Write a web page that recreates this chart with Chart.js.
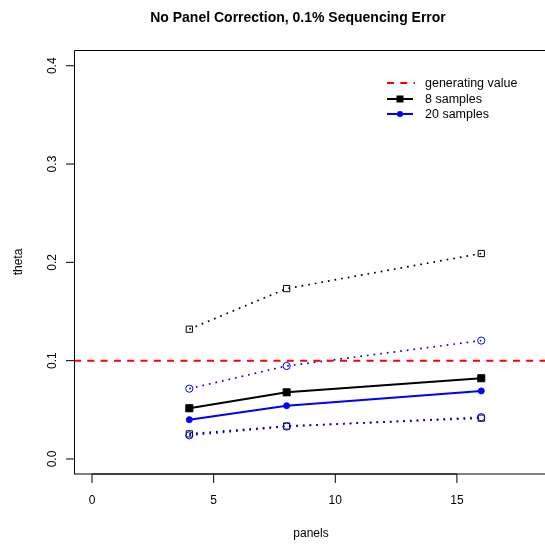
<!DOCTYPE html>
<html>
<head>
<meta charset="utf-8">
<script src="https://cdn.jsdelivr.net/npm/chart.js@4/dist/chart.umd.min.js"></script>
<style>
  html, body { margin: 0; padding: 0; background: #fff; overflow: hidden; }
  #wrap { width: 545px; height: 546px; position: relative; }
</style>
</head>
<body>
<div id="wrap"><canvas id="c" width="545" height="546"></canvas></div>
<script>
const titleText = "No Panel Correction, 0.1% Sequencing Error";
const xLabel = "panels";
const yLabel = "theta";
const panels = [4, 8, 16];
const theta8 = [0.0516, 0.0678, 0.0821];
const theta20 = [0.0400, 0.0542, 0.0692];
const theta8Upper = [0.1320, 0.1733, 0.2090];
const theta8Lower = [0.0255, 0.0335, 0.0415];
const theta20Upper = [0.0715, 0.0946, 0.1204];
const theta20Lower = [0.0240, 0.0330, 0.0425];
const generatingValue = 0.1;
const xTicks = [0, 5, 10, 15];
const yTicks = [0.0, 0.1, 0.2, 0.3, 0.4];
const yTickLabels = ["0.0", "0.1", "0.2", "0.3", "0.4"];
const legendLabels = ["generating value", "8 samples", "20 samples"];

const FONT = '"Liberation Sans", Arial, Helvetica, sans-serif';
const pts = (ys) => panels.map((x, i) => ({x: x, y: ys[i]}));

const solid = (label, ys, color, style, r) => ({
  label, data: pts(ys), borderColor: color, backgroundColor: color,
  borderWidth: 2, pointStyle: style, pointRadius: r, pointBorderWidth: 1,
  pointBackgroundColor: color, pointBorderColor: color, tension: 0
});
const dotted = (label, ys, color, style, r) => ({
  label, data: pts(ys), borderColor: color, backgroundColor: 'rgba(0,0,0,0)',
  borderWidth: 1.7, borderDash: [1.7, 5], borderCapStyle: 'butt',
  pointStyle: style, pointRadius: r, pointBorderWidth: 1,
  pointBackgroundColor: 'rgba(0,0,0,0)', pointBorderColor: color, tension: 0
});

const decor = {
  id: 'decor',
  afterDatasetsDraw(chart) {
    const ctx = chart.ctx, a = chart.chartArea;
    const xs = chart.scales.x, ys = chart.scales.y;
    ctx.save();
    // generating value line
    const gy = ys.getPixelForValue(generatingValue);
    ctx.strokeStyle = '#ff0000'; ctx.lineWidth = 2; ctx.setLineDash([7, 6.3]);
    ctx.beginPath(); ctx.moveTo(a.left, gy); ctx.lineTo(a.right, gy); ctx.stroke();
    ctx.setLineDash([]);
    // box
    ctx.strokeStyle = '#000'; ctx.lineWidth = 1;
    ctx.beginPath();
    ctx.moveTo(a.left + 0.5, a.bottom); ctx.lineTo(a.left + 0.5, a.top + 0.5); ctx.lineTo(a.right, a.top + 0.5);
    ctx.stroke();
    ctx.beginPath(); ctx.moveTo(a.left, a.bottom); ctx.lineTo(a.right, a.bottom); ctx.stroke();
    // x axis
    const x0 = xs.getPixelForValue(xTicks[0]), x1 = xs.getPixelForValue(xTicks[xTicks.length - 1]);
    ctx.beginPath(); ctx.moveTo(x0, a.bottom); ctx.lineTo(x1, a.bottom); ctx.stroke();
    ctx.fillStyle = '#000';
    ctx.font = '12px ' + FONT; ctx.textAlign = 'center'; ctx.textBaseline = 'alphabetic';
    xTicks.forEach(t => {
      const px = xs.getPixelForValue(t);
      ctx.beginPath(); ctx.moveTo(px, a.bottom); ctx.lineTo(px, a.bottom + 9); ctx.stroke();
      ctx.fillText(String(t), px, a.bottom + 30);
    });
    // y axis ticks
    yTicks.forEach((t, i) => {
      const py = ys.getPixelForValue(t);
      ctx.beginPath(); ctx.moveTo(a.left, py); ctx.lineTo(a.left - 8, py); ctx.stroke();
      ctx.save(); ctx.translate(a.left - 18, py); ctx.rotate(-Math.PI / 2);
      ctx.fillText(yTickLabels[i], 0, 0); ctx.restore();
    });
    // axis titles
    ctx.fillText(xLabel, 311, 537);
    ctx.save(); ctx.translate(22, (a.top + a.bottom) / 2); ctx.rotate(-Math.PI / 2);
    ctx.fillText(yLabel, 0, 0); ctx.restore();
    // title
    ctx.font = 'bold 14px ' + FONT;
    ctx.fillText(titleText, 298, 22);
    // legend
    ctx.font = '12.5px ' + FONT; ctx.textAlign = 'left'; ctx.textBaseline = 'middle';
    const lx0 = 387, lx1 = 413, tx = 425, rows = [83, 99, 114];
    ctx.strokeStyle = '#ff0000'; ctx.lineWidth = 2; ctx.setLineDash([7, 6.3]);
    ctx.beginPath(); ctx.moveTo(lx0, rows[0]); ctx.lineTo(lx1 + 2, rows[0]); ctx.stroke();
    ctx.setLineDash([]);
    ctx.strokeStyle = '#000';
    ctx.beginPath(); ctx.moveTo(lx0, rows[1]); ctx.lineTo(lx1, rows[1]); ctx.stroke();
    ctx.fillStyle = '#000'; ctx.fillRect(400 - 3.5, rows[1] - 3.5, 7, 7);
    ctx.strokeStyle = '#0000ff'; ctx.fillStyle = '#0000ff';
    ctx.beginPath(); ctx.moveTo(lx0, rows[2]); ctx.lineTo(lx1, rows[2]); ctx.stroke();
    ctx.beginPath(); ctx.arc(400, rows[2], 3, 0, Math.PI * 2); ctx.fill();
    ctx.fillStyle = '#000';
    legendLabels.forEach((s, i) => ctx.fillText(s, tx, rows[i] + 1));
    ctx.restore();
  }
};

new Chart(document.getElementById('c'), {
  type: 'line',
  data: {
    datasets: [
      solid(legendLabels[2], theta20, '#0000ff', 'circle', 3),
      solid(legendLabels[1], theta8, '#000000', 'rect', 5),
      dotted('20 samples upper', theta20Upper, '#0000ff', 'circle', 3.6),
      dotted('20 samples lower', theta20Lower, '#0000ff', 'circle', 3.6),
      dotted('8 samples upper', theta8Upper, '#000000', 'rect', 4.4),
      dotted('8 samples lower', theta8Lower, '#000000', 'rect', 4.4)
    ]
  },
  options: {
    responsive: false, animation: false, devicePixelRatio: 1,
    layout: { autoPadding: false, padding: { left: 74, top: 50, right: 0, bottom: 72 } },
    plugins: { legend: { display: false }, tooltip: { enabled: false }, title: { display: false } },
    scales: {
      x: { type: 'linear', display: false, min: -0.74, max: 18.62 },
      y: { type: 'linear', display: false, min: -0.0153, max: 0.416 }
    }
  },
  plugins: [decor]
});
</script>
</body>
</html>
